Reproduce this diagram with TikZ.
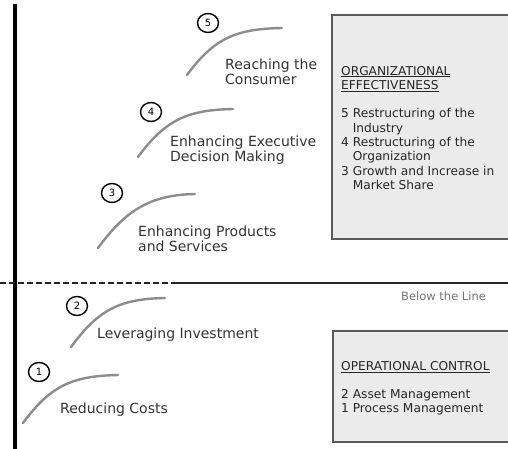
\documentclass[tikz,border=0pt]{standalone}
\usepackage{fontspec}
\setmainfont{DejaVu Sans}
\usetikzlibrary{shapes.geometric}
\definecolor{curvegray}{HTML}{8C8C8C}
\definecolor{panelfill}{HTML}{EBEBEB}
\definecolor{panelline}{HTML}{5A5A5A}
\definecolor{labeltext}{HTML}{333333}
\begin{document}
\begin{tikzpicture}[x=1pt,y=-1pt,
  growth/.style={draw=curvegray,line width=2.4pt,line cap=round},
  numbadge/.style={draw=black,line width=1.4pt,ellipse,minimum width=21pt,minimum height=19pt,inner sep=0pt,font=\fontsize{10}{11}\selectfont},
  lbl/.style={anchor=base west,align=left,inner sep=0pt,text=labeltext,font=\fontsize{14}{15}\selectfont},
  panel/.style={draw=panelline,line width=1.6pt,fill=panelfill},
  paneltxt/.style={anchor=base west,align=left,inner sep=0pt,text=black!85,font=\fontsize{12.2}{14.3}\selectfont},
  axis/.style={draw=black,line width=3.5pt},
  divider/.style={draw=black!85,line width=1.1pt}]
\useasboundingbox (0,0) rectangle (508,449);
% axis and divider
\coordinate (axtop) at (15,4);
\coordinate (axbot) at (15,449);
\draw[axis] (axtop) -- (axbot);
\coordinate (dl) at (0,283);
\coordinate (dm) at (175,283);
\coordinate (dr) at (508,283);
\draw[divider,dash pattern=on 6pt off 3pt] (dl) -- (dm);
\draw[divider] (dm) -- (dr);
% panels
\draw[panel] (332,15) rectangle (512,239);
\draw[panel] (333,331) rectangle (512,442);
\node[paneltxt] (orgtxt) at (341,189.5) {\underline{ORGANIZATIONAL}\\\underline{EFFECTIVENESS}\\[14.3pt]5 Restructuring of the\\\hphantom{5 }Industry\\4 Restructuring of the\\\hphantom{4 }Organization\\3 Growth and Increase in\\\hphantom{3 }Market Share};
\node[paneltxt] (optxt) at (341,412.5) {\underline{OPERATIONAL CONTROL}\\[13pt]2 Asset Management\\1 Process Management};
\node[anchor=base west,inner sep=0pt,text=black!55,font=\fontsize{11.5}{13}\selectfont] (below) at (401,300) {Below the Line};
% curves
\coordinate (s1) at (23,423);  \coordinate (e1) at (118,375);
\coordinate (s2) at (71,347);  \coordinate (e2) at (165,298);
\coordinate (s3) at (98,248);  \coordinate (e3) at (195,194);
\coordinate (s4) at (138,157); \coordinate (e4) at (233,109);
\coordinate (s5) at (187,75);  \coordinate (e5) at (282,28);
\foreach \i in {1,...,5}{
  \draw[growth] (s\i) .. controls +(28,-38) and +(-45,1) .. (e\i);
}
% badges
\node[numbadge] (n1) at (39,372) {1};
\node[numbadge] (n2) at (77,306) {2};
\node[numbadge] (n3) at (112,193) {3};
\node[numbadge] (n4) at (151,112) {4};
\node[numbadge] (n5) at (208,23) {5};
% labels
\node[lbl] (l5) at (225,85) {Reaching the\\Consumer};
\node[lbl] (l4) at (170,162) {Enhancing Executive\\Decision Making};
\node[lbl] (l3) at (138,251) {Enhancing Products\\and Services};
\node[lbl] (l2) at (97,338) {Leveraging Investment};
\node[lbl] (l1) at (60,413) {Reducing Costs};
\end{tikzpicture}
\end{document}
